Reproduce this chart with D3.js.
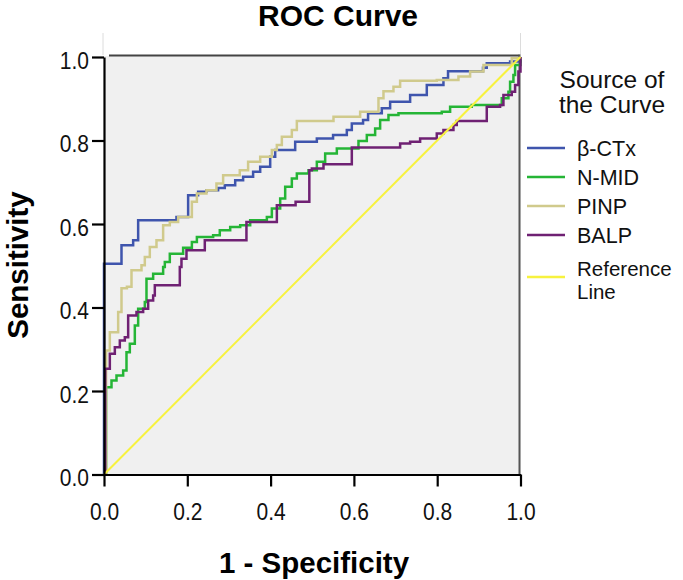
<!DOCTYPE html>
<html>
<head>
<meta charset="utf-8">
<script src="https://cdn.jsdelivr.net/npm/d3@7"></script>
<style>
  html, body { margin: 0; padding: 0; background: #ffffff; }
  svg { display: block; font-family: "Liberation Sans", Arial, sans-serif; }
</style>
</head>
<body>
<svg id="chart" width="683" height="580"></svg>
<script>
// ---- data ----
const seriesNames = ["β-CTx", "N-MID", "PINP", "BALP"];
const tickValues = [0, 0.2, 0.4, 0.6, 0.8, 1.0];

const betaCTx = [
  [0,0],[0,0.505],[0.042,0.549],[0.07,0.561],[0.082,0.609],[0.174,0.617],[0.202,0.669],
  [0.226,0.677],[0.246,0.681],[0.274,0.686],[0.290,0.693],[0.315,0.705],[0.334,0.713],
  [0.358,0.725],[0.375,0.737],[0.399,0.761],[0.411,0.777],[0.459,0.797],[0.511,0.805],
  [0.550,0.813],[0.583,0.825],[0.595,0.841],[0.622,0.849],[0.634,0.865],[0.667,0.877],
  [0.687,0.893],[0.735,0.909],[0.775,0.933],[0.815,0.949],[0.826,0.966],[0.910,0.974],
  [0.919,0.985],[0.975,0.989],[1,1]
];
const nMID = [
  [0,0],[0.005,0.209],[0.018,0.225],[0.030,0.237],[0.046,0.249],[0.054,0.293],[0.062,0.313],
  [0.074,0.357],[0.082,0.397],[0.098,0.413],[0.102,0.469],[0.118,0.481],[0.142,0.497],
  [0.146,0.509],[0.158,0.529],[0.190,0.543],[0.211,0.557],[0.223,0.569],[0.262,0.573],
  [0.278,0.585],[0.303,0.593],[0.327,0.597],[0.351,0.609],[0.391,0.617],[0.403,0.637],
  [0.423,0.661],[0.435,0.689],[0.451,0.709],[0.463,0.721],[0.491,0.729],[0.511,0.749],
  [0.531,0.769],[0.559,0.781],[0.611,0.799],[0.631,0.813],[0.651,0.829],[0.663,0.849],
  [0.683,0.861],[0.707,0.865],[0.811,0.869],[0.831,0.881],[0.883,0.885],[0.955,0.901],
  [0.971,0.917],[0.975,0.941],[0.983,0.957],[0.987,0.981],[1,1]
];
const pinp = [
  [0,0],[0.005,0.297],[0.014,0.341],[0.034,0.389],[0.042,0.446],[0.055,0.45],[0.066,0.489],
  [0.090,0.501],[0.098,0.521],[0.110,0.545],[0.126,0.561],[0.142,0.597],[0.158,0.605],
  [0.178,0.617],[0.211,0.653],[0.223,0.673],[0.246,0.681],[0.270,0.697],[0.286,0.717],
  [0.326,0.729],[0.346,0.749],[0.375,0.761],[0.403,0.777],[0.415,0.789],[0.427,0.809],
  [0.451,0.825],[0.463,0.847],[0.551,0.857],[0.615,0.869],[0.659,0.901],[0.671,0.918],
  [0.695,0.929],[0.711,0.943],[0.799,0.945],[0.851,0.953],[0.879,0.965],[0.911,0.981],
  [0.979,0.997],[1,1]
];
const balp = [
  [0,0],[0.003,0.253],[0.014,0.289],[0.026,0.305],[0.038,0.321],[0.050,0.329],[0.058,0.381],
  [0.078,0.389],[0.094,0.397],[0.106,0.417],[0.118,0.429],[0.122,0.453],[0.182,0.497],
  [0.186,0.517],[0.198,0.537],[0.242,0.561],[0.342,0.605],[0.415,0.645],[0.46,0.653],
  [0.493,0.729],[0.499,0.733],[0.527,0.743],[0.595,0.783],[0.711,0.793],[0.735,0.797],
  [0.759,0.805],[0.799,0.817],[0.815,0.825],[0.839,0.837],[0.847,0.847],[0.919,0.881],
  [0.951,0.885],[0.959,0.909],[0.979,0.917],[0.987,0.933],[0.995,0.965],[1,1]
];
const referenceLine = [[0,0],[1,1]];

const seriesData = [betaCTx, nMID, pinp, balp];
const seriesColors = ["#3f55ad", "#25b536", "#d0ca8c", "#6f2173"];
const refColor = "#f7f23e";

// ---- layout ----
const svg = d3.select("#chart");
const x = d3.scaleLinear().domain([0, 1]).range([104, 520.5]);
const y = d3.scaleLinear().domain([0, 1]).range([474.5, 57]);

// faint panel edges above plot
[x(0) - 1, x(1)].forEach(px => {
  svg.append("line").attr("x1", px).attr("x2", px).attr("y1", 33).attr("y2", y(1) - 2)
    .attr("stroke", "#dcdcdc").attr("stroke-width", 1);
});

// plot background
svg.append("rect")
  .attr("x", x(0)).attr("y", y(1) - 1)
  .attr("width", x(1) - x(0)).attr("height", y(0) - y(1) + 1)
  .attr("fill", "#f0f0f0");

// top & right frame
svg.append("line").attr("x1", x(0) + 5).attr("x2", x(1) - 1)
  .attr("y1", y(1) - 1.5).attr("y2", y(1) - 1.5)
  .attr("stroke", "#444").attr("stroke-width", 2);
svg.append("line").attr("x1", x(1) - 1).attr("x2", x(1) - 1)
  .attr("y1", y(1) - 2.5).attr("y2", y(0))
  .attr("stroke", "#555").attr("stroke-width", 2);

const step = d3.line().x(d => x(d[0])).y(d => y(d[1])).curve(d3.curveStepAfter);
const straight = d3.line().x(d => x(d[0])).y(d => y(d[1]));

seriesData.forEach((s, i) => {
  svg.append("path").datum(s)
    .attr("d", step)
    .attr("fill", "none")
    .attr("stroke", seriesColors[i])
    .attr("stroke-width", 2.5)
    .attr("stroke-linejoin", "miter");
});
svg.append("path").datum(referenceLine)
  .attr("d", straight).attr("fill", "none")
  .attr("stroke", refColor).attr("stroke-width", 2);

// axes
const fmt = d3.format(".1f");
const gx = svg.append("g").attr("transform", `translate(0,${y(0)})`)
  .call(d3.axisBottom(x).tickValues(tickValues).tickFormat(fmt).tickSize(12).tickSizeOuter(0));
const gy = svg.append("g").attr("transform", `translate(${x(0)},0)`)
  .call(d3.axisLeft(y).tickValues(tickValues).tickFormat(fmt).tickSize(12).tickSizeOuter(0));

[gx, gy].forEach(g => {
  g.select(".domain").attr("stroke", "#000").attr("stroke-width", 2.2);
  g.selectAll(".tick line").attr("stroke", "#000").attr("stroke-width", 2.2);
  g.selectAll(".tick text").attr("font-size", 21).attr("fill", "#111")
    .attr("font-family", "'Liberation Sans', Arial, sans-serif");
});
gx.selectAll(".tick text").attr("y", 0).attr("dy", 0).attr("transform", "translate(0,45) scale(1,1.15)");
gy.selectAll(".tick text").attr("x", 0).attr("dy", 0).attr("transform", "translate(-15,11) scale(1,1.15)");

// title (centered over the whole chart)
svg.append("text").attr("transform", "translate(338,26)")
  .attr("text-anchor", "middle").attr("font-weight", "bold").attr("font-size", 30)
  .attr("fill", "#000").text("ROC Curve");

// axis titles
svg.append("text").attr("x", 314).attr("y", 573)
  .attr("text-anchor", "middle").attr("font-weight", "bold").attr("font-size", 29.5)
  .attr("fill", "#000").text("1 - Specificity");
svg.append("text").attr("transform", "translate(28,265) rotate(-90)")
  .attr("text-anchor", "middle").attr("font-weight", "bold").attr("font-size", 29.5)
  .attr("fill", "#000").text("Sensitivity");

// legend
const legendTitle = ["Source of", "the Curve"];
const lg = svg.append("g");
lg.selectAll("text.lt").data(legendTitle).join("text")
  .attr("class", "lt")
  .attr("x", 612).attr("y", (d, i) => 88 + i * 25)
  .attr("text-anchor", "middle").attr("font-size", 24.5).attr("fill", "#111")
  .text(d => d);

const legendItems = seriesNames.map((n, i) => ({ name: [n], color: seriesColors[i] }))
  .concat([{ name: ["Reference", "Line"], color: refColor }]);
const legendY = [148, 177, 206, 235, 277];
legendItems.forEach((item, i) => {
  lg.append("line").attr("x1", 527).attr("x2", 565)
    .attr("y1", legendY[i]).attr("y2", legendY[i])
    .attr("stroke", item.color).attr("stroke-width", 2.5);
  const multi = item.name.length > 1;
  item.name.forEach((ln, j) => {
    lg.append("text").attr("x", 577)
      .attr("y", multi ? 276 + j * 23 : legendY[i] + 8)
      .attr("font-size", multi ? 20.5 : 21.5).attr("fill", "#111")
      .text(ln);
  });
});
</script>
</body>
</html>
